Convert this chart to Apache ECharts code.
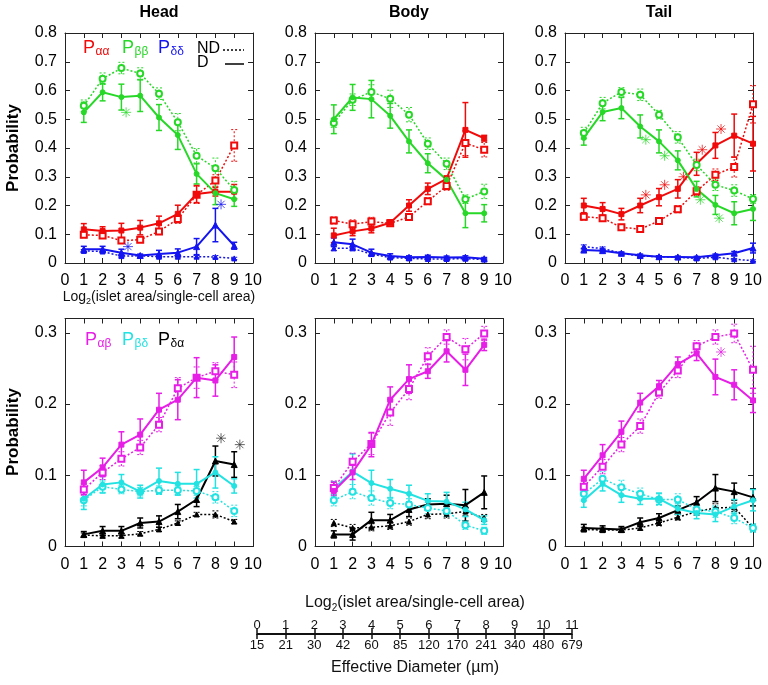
<!DOCTYPE html>
<html><head><meta charset="utf-8">
<script src="https://cdn.jsdelivr.net/npm/echarts/dist/echarts.min.js"></script>
<style>html,body{margin:0;padding:0;background:#fff}#c{width:768px;height:685px}</style>
</head><body><div id="c"></div><script>
// ---------- categories / ticks ----------
const xs9 = [1,2,3,4,5,6,7,8,9];
const xs10 = [1,2,3,4,5,6,7,8,9,10];
const panelTitles = ['Head','Body','Tail'];
const scaleLog = [0,1,2,3,4,5,6,7,8,9,10,11];
const scaleDiam = ['15','21','30','42','60','85','120','170','241','340','480','679'];

// ---------- Head, top (P_aa, P_bb, P_dd) ----------
const headAaD   = [0.117,0.111,0.113,0.123,0.138,0.171,0.240,0.248,0.248];
const headAaDe  = [0.020,0.015,0.025,0.025,0.025,0.030,0.030,0.015,0.025];
const headAaN   = [0.098,0.096,0.078,0.081,0.110,0.153,0.237,0.287,0.409];
const headAaNe  = [0.010,0.010,0.010,0.010,0.010,0.015,0.030,0.020,0.055];
const headBbD   = [0.524,0.594,0.577,0.582,0.506,0.445,0.310,0.243,0.222];
const headBbDe  = [0.035,0.030,0.045,0.055,0.045,0.050,0.035,0.040,0.025];
const headBbN   = [0.547,0.641,0.678,0.659,0.589,0.490,0.373,0.330,0.254];
const headBbNe  = [0.020,0.020,0.020,0.020,0.020,0.030,0.025,0.035,0.030];
const headDdD   = [0.048,0.048,0.036,0.026,0.031,0.036,0.057,0.132,0.060];
const headDdDe  = [0.010,0.010,0.012,0.005,0.013,0.013,0.028,0.058,0.012];
const headDdN   = [0.042,0.040,0.024,0.025,0.022,0.022,0.022,0.021,0.016];
const headDdNe  = [0.005,0.005,0.005,0.004,0.004,0.004,0.004,0.005,0.004];
const headTopStarsGreen = [[3.25,0.524]];
const headTopStarsBlue  = [[3.35,0.057],[8.3,0.204]];

// ---------- Body, top ----------
const bodyAaD   = [0.096,0.110,0.120,0.140,0.200,0.258,0.293,0.463,0.434];
const bodyAaDe  = [0.025,0.015,0.015,0.010,0.020,0.020,0.010,0.095,0.010];
const bodyAaN   = [0.148,0.135,0.144,0.138,0.160,0.215,0.268,0.417,0.394];
const bodyAaNe  = [0.012,0.015,0.015,0.010,0.010,0.012,0.015,0.043,0.025];
const bodyBbD   = [0.500,0.576,0.570,0.512,0.423,0.347,0.290,0.173,0.173];
const bodyBbDe  = [0.050,0.045,0.065,0.043,0.040,0.033,0.010,0.050,0.030];
const bodyBbN   = [0.487,0.568,0.595,0.571,0.516,0.415,0.345,0.222,0.249];
const bodyBbNe  = [0.015,0.020,0.025,0.030,0.025,0.020,0.020,0.015,0.025];
const bodyDdD   = [0.072,0.065,0.036,0.024,0.020,0.021,0.019,0.020,0.015];
const bodyDdDe  = [0.015,0.018,0.012,0.008,0.005,0.006,0.005,0.005,0.004];
const bodyDdN   = [0.051,0.051,0.031,0.019,0.016,0.014,0.014,0.015,0.012];
const bodyDdNe  = [0.008,0.008,0.005,0.004,0.003,0.003,0.003,0.003,0.003];

// ---------- Tail, top ----------
const tailAaD   = [0.200,0.188,0.170,0.200,0.229,0.258,0.345,0.409,0.443,0.415];
const tailAaDe  = [0.025,0.022,0.020,0.025,0.030,0.032,0.040,0.045,0.075,0.095];
const tailAaN   = [0.161,0.156,0.124,0.118,0.146,0.187,0.250,0.307,0.334,0.552];
const tailAaNe  = [0.012,0.010,0.010,0.008,0.010,0.012,0.015,0.020,0.035,0.065];
const tailBbD   = [0.435,0.525,0.539,0.475,0.423,0.357,0.257,0.202,0.173,0.188];
const tailBbDe  = [0.025,0.030,0.037,0.040,0.040,0.033,0.027,0.033,0.040,0.040];
const tailBbN   = [0.452,0.556,0.595,0.585,0.516,0.437,0.341,0.272,0.252,0.223];
const tailBbNe  = [0.020,0.020,0.015,0.020,0.015,0.020,0.020,0.020,0.020,0.015];
const tailDdD   = [0.045,0.043,0.034,0.027,0.022,0.021,0.020,0.027,0.034,0.052];
const tailDdDe  = [0.005,0.005,0.004,0.004,0.003,0.003,0.003,0.004,0.006,0.017];
const tailDdN   = [0.057,0.050,0.034,0.024,0.022,0.020,0.016,0.020,0.013,0.008];
const tailDdNe  = [0.006,0.006,0.004,0.003,0.003,0.003,0.003,0.003,0.003,0.003];
const tailTopStarsGreen = [[4.3,0.429],[5.3,0.373],[7.2,0.220],[8.2,0.156]];
const tailTopStarsRed   = [[4.3,0.237],[5.3,0.272],[6.3,0.300],[7.3,0.394],[8.3,0.466]];

// ---------- Head, bottom (P_ab, P_bd, P_da) ----------
const headAbD   = [0.090,0.111,0.143,0.157,0.192,0.206,0.237,0.233,0.266];
const headAbDe  = [0.017,0.013,0.018,0.022,0.023,0.028,0.028,0.022,0.028];
const headAbN   = [0.080,0.104,0.123,0.139,0.171,0.222,0.237,0.246,0.241];
const headAbNe  = [0.008,0.010,0.010,0.010,0.010,0.015,0.015,0.012,0.018];
const headBdD   = [0.067,0.087,0.090,0.077,0.092,0.088,0.088,0.104,0.085];
const headBdDe  = [0.015,0.012,0.011,0.009,0.018,0.016,0.020,0.022,0.010];
const headBdN   = [0.065,0.084,0.080,0.077,0.079,0.079,0.078,0.069,0.050];
const headBdNe  = [0.008,0.008,0.006,0.006,0.006,0.006,0.006,0.008,0.008];
const headDaD   = [0.017,0.022,0.022,0.033,0.035,0.049,0.066,0.120,0.115];
const headDaDe  = [0.004,0.006,0.006,0.007,0.008,0.010,0.010,0.021,0.018];
const headDaN   = [0.016,0.015,0.015,0.018,0.024,0.033,0.045,0.045,0.035];
const headDaNe  = [0.003,0.003,0.003,0.003,0.003,0.003,0.003,0.005,0.003];
const headBotStarsBlack = [[8.3,0.152],[9.3,0.143]];

// ---------- Body, bottom ----------
const bodyAbD   = [0.078,0.104,0.143,0.206,0.235,0.246,0.274,0.248,0.283];
const bodyAbDe  = [0.012,0.010,0.017,0.018,0.020,0.010,0.015,0.022,0.008];
const bodyAbN   = [0.082,0.119,0.144,0.188,0.221,0.267,0.294,0.277,0.299];
const bodyAbNe  = [0.010,0.012,0.015,0.018,0.015,0.012,0.010,0.015,0.010];
const bodyBdD   = [0.081,0.105,0.089,0.081,0.074,0.064,0.063,0.052,0.037];
const bodyBdDe  = [0.010,0.025,0.018,0.013,0.012,0.010,0.013,0.010,0.006];
const bodyBdN   = [0.065,0.077,0.068,0.061,0.059,0.054,0.050,0.030,0.022];
const bodyBdNe  = [0.008,0.010,0.010,0.008,0.008,0.008,0.008,0.006,0.005];
const bodyDaD   = [0.017,0.017,0.037,0.037,0.052,0.059,0.060,0.058,0.076];
const bodyDaDe  = [0.005,0.008,0.011,0.008,0.010,0.008,0.012,0.022,0.023];
const bodyDaN   = [0.033,0.026,0.027,0.029,0.035,0.045,0.046,0.049,0.040];
const bodyDaNe  = [0.005,0.005,0.005,0.005,0.005,0.006,0.006,0.006,0.005];

// ---------- Tail, bottom ----------
const tailAbD   = [0.095,0.128,0.161,0.202,0.225,0.256,0.271,0.238,0.227,0.205];
const tailAbDe  = [0.012,0.015,0.015,0.013,0.008,0.010,0.010,0.025,0.021,0.017];
const tailAbN   = [0.084,0.112,0.143,0.169,0.216,0.247,0.281,0.294,0.299,0.248];
const tailAbNe  = [0.008,0.010,0.010,0.010,0.008,0.010,0.008,0.010,0.013,0.033];
const tailBdD   = [0.065,0.088,0.072,0.067,0.067,0.053,0.047,0.045,0.056,0.065];
const tailBdDe  = [0.010,0.010,0.010,0.008,0.008,0.008,0.008,0.010,0.010,0.015];
const tailBdN   = [0.074,0.095,0.083,0.074,0.066,0.066,0.052,0.049,0.040,0.026];
const tailBdNe  = [0.010,0.010,0.010,0.008,0.008,0.008,0.008,0.008,0.008,0.006];
const tailDaD   = [0.026,0.025,0.024,0.034,0.040,0.051,0.062,0.082,0.077,0.069];
const tailDaDe  = [0.005,0.004,0.004,0.006,0.006,0.006,0.008,0.019,0.012,0.012];
const tailDaN   = [0.024,0.023,0.023,0.026,0.033,0.041,0.049,0.054,0.055,0.026];
const tailDaNe  = [0.003,0.003,0.003,0.003,0.004,0.004,0.005,0.006,0.006,0.004];
const tailBotStarsMagenta = [[8.3,0.273]];

// ---------- styling ----------
const FONT = '"Liberation Sans", Arial, Helvetica, sans-serif';
const RED = '#f00a0a', GREEN = '#28d828', BLUE = '#1414f0';
const MAGENTA = '#e61ee6', CYAN = '#22e2e2', BLACK = '#000000';
const AXC = '#222';
const panelLefts = [65, 315, 565];
const PW = 188;
const rowTops = [33, 318.5];
const rowHeights = [230, 228];
const rowMax = [0.8, 0.32];

const grids = [], xAxes = [], yAxes = [], series = [];

function yFmt(v) {
  const r = Math.round(v * 10) / 10;
  if (Math.abs(v - r) > 1e-6) return '';
  return r === 0 ? '0' : r.toFixed(1);
}

for (let row = 0; row < 2; row++) {
  for (let col = 0; col < 3; col++) {
    const p = row * 3 + col;
    grids.push({left: panelLefts[col], top: rowTops[row], width: PW, height: rowHeights[row]});
    const axisLine = {show: true, onZero: false, lineStyle: {color: AXC, width: 1}};
    const tick = {show: true, inside: true, length: 5, lineStyle: {color: AXC, width: 1}};
    xAxes.push({type: 'value', gridIndex: p, position: 'bottom', min: 0, max: 10, interval: 1,
      axisLine, axisTick: tick, splitLine: {show: false},
      axisLabel: {fontSize: 16, color: '#000', margin: 10, fontFamily: FONT}});
    xAxes.push({type: 'value', gridIndex: p, position: 'top', min: 0, max: 10, interval: 1,
      axisLine, axisTick: tick, splitLine: {show: false}, axisLabel: {show: false}});
    yAxes.push({type: 'value', gridIndex: p, position: 'left', min: 0, max: rowMax[row], interval: 0.1,
      axisLine, axisTick: tick, splitLine: {show: false},
      axisLabel: {fontSize: 16, color: '#000', margin: 8, fontFamily: FONT, formatter: yFmt}});
    yAxes.push({type: 'value', gridIndex: p, position: 'right', min: 0, max: rowMax[row], interval: 0.1,
      axisLine, axisTick: tick, splitLine: {show: false}, axisLabel: {show: false}});
  }
}

// scale axis grid (index 6)
grids.push({left: 257, width: 315, top: 633, height: 1});
xAxes.push({type: 'value', gridIndex: 6, position: 'bottom', min: 0, max: 11, interval: 1,
  axisLine: {show: true, onZero: false, lineStyle: {color: '#111', width: 2}},
  axisTick: {show: true, inside: false, length: 5, lineStyle: {color: '#111', width: 1.5}},
  splitLine: {show: false},
  axisLabel: {fontSize: 13, color: '#111', margin: 5, fontFamily: FONT, formatter: v => scaleDiam[Math.round(v)]}});
xAxes.push({type: 'value', gridIndex: 6, position: 'top', min: 0, max: 11, interval: 1,
  axisLine: {show: false, onZero: false},
  axisTick: {show: true, inside: false, length: 5, lineStyle: {color: '#111', width: 1.5}},
  splitLine: {show: false},
  axisLabel: {fontSize: 13, color: '#111', margin: 1, fontFamily: FONT, formatter: v => String(scaleLog[Math.round(v)])}});
yAxes.push({type: 'value', gridIndex: 6, show: false, min: 0, max: 1});

function errRender(color, width, dash) {
  return function (params, api) {
    const x = api.value(0), lo = api.value(1), hi = api.value(2);
    const a = api.coord([x, lo]), b = api.coord([x, hi]);
    const c = 3;
    const st = {stroke: color, lineWidth: width, lineDash: dash || null, fill: null};
    return {type: 'group', children: [
      {type: 'line', shape: {x1: a[0], y1: a[1], x2: b[0], y2: b[1]}, style: st},
      {type: 'line', shape: {x1: a[0] - c, y1: a[1], x2: a[0] + c, y2: a[1]}, style: st},
      {type: 'line', shape: {x1: b[0] - c, y1: b[1], x2: b[0] + c, y2: b[1]}, style: st}
    ]};
  };
}

function addSeries(p, xs, mean, err, color, dashed, symbol, size) {
  series.push({
    type: 'custom', xAxisIndex: 2 * p, yAxisIndex: 2 * p, silent: true, z: 2,
    renderItem: errRender(color, dashed ? 1 : 1.5, dashed ? [2, 2] : null),
    encode: {x: 0, y: [1, 2]},
    data: xs.map((x, i) => [x, mean[i] - err[i], mean[i] + err[i]])
  });
  series.push({
    type: 'line', xAxisIndex: 2 * p, yAxisIndex: 2 * p, silent: true, z: 3,
    data: xs.map((x, i) => [x, mean[i]]),
    symbol: symbol, symbolSize: size, showSymbol: true,
    lineStyle: {color: color, width: dashed ? 1.5 : 2, type: dashed ? [2, 2] : 'solid'},
    itemStyle: {color: color, borderColor: color, borderWidth: 1}
  });
}

function addStars(p, pts, color) {
  series.push({
    type: 'custom', xAxisIndex: 2 * p, yAxisIndex: 2 * p, silent: true, z: 4,
    encode: {x: 0, y: 1},
    data: pts,
    renderItem: function (params, api) {
      const c = api.coord([api.value(0), api.value(1)]);
      const r = 5, d = r * 0.72;
      const st = {stroke: color, lineWidth: 1, opacity: 0.75};
      return {type: 'group', children: [
        {type: 'line', shape: {x1: c[0] - r, y1: c[1], x2: c[0] + r, y2: c[1]}, style: st},
        {type: 'line', shape: {x1: c[0], y1: c[1] - r, x2: c[0], y2: c[1] + r}, style: st},
        {type: 'line', shape: {x1: c[0] - d, y1: c[1] - d, x2: c[0] + d, y2: c[1] + d}, style: st},
        {type: 'line', shape: {x1: c[0] - d, y1: c[1] + d, x2: c[0] + d, y2: c[1] - d}, style: st}
      ]};
    }
  });
}

function topPanel(p, xs, aD, aDe, aN, aNe, bD, bDe, bN, bNe, dD, dDe, dN, dNe) {
  addSeries(p, xs, dN, dNe, BLUE, true, 'triangle', 5);
  addSeries(p, xs, dD, dDe, BLUE, false, 'triangle', 6);
  addSeries(p, xs, aN, aNe, RED, true, 'emptyRect', 6);
  addSeries(p, xs, aD, aDe, RED, false, 'rect', 5);
  addSeries(p, xs, bN, bNe, GREEN, true, 'emptyCircle', 6);
  addSeries(p, xs, bD, bDe, GREEN, false, 'circle', 5);
}
function botPanel(p, xs, aD, aDe, aN, aNe, bD, bDe, bN, bNe, dD, dDe, dN, dNe) {
  addSeries(p, xs, dN, dNe, BLACK, true, 'triangle', 5);
  addSeries(p, xs, dD, dDe, BLACK, false, 'triangle', 6);
  addSeries(p, xs, bN, bNe, CYAN, true, 'emptyCircle', 6);
  addSeries(p, xs, bD, bDe, CYAN, false, 'circle', 5);
  addSeries(p, xs, aN, aNe, MAGENTA, true, 'emptyRect', 6);
  addSeries(p, xs, aD, aDe, MAGENTA, false, 'rect', 5);
}

topPanel(0, xs9, headAaD, headAaDe, headAaN, headAaNe, headBbD, headBbDe, headBbN, headBbNe, headDdD, headDdDe, headDdN, headDdNe);
topPanel(1, xs9, bodyAaD, bodyAaDe, bodyAaN, bodyAaNe, bodyBbD, bodyBbDe, bodyBbN, bodyBbNe, bodyDdD, bodyDdDe, bodyDdN, bodyDdNe);
topPanel(2, xs10, tailAaD, tailAaDe, tailAaN, tailAaNe, tailBbD, tailBbDe, tailBbN, tailBbNe, tailDdD, tailDdDe, tailDdN, tailDdNe);
botPanel(3, xs9, headAbD, headAbDe, headAbN, headAbNe, headBdD, headBdDe, headBdN, headBdNe, headDaD, headDaDe, headDaN, headDaNe);
botPanel(4, xs9, bodyAbD, bodyAbDe, bodyAbN, bodyAbNe, bodyBdD, bodyBdDe, bodyBdN, bodyBdNe, bodyDaD, bodyDaDe, bodyDaN, bodyDaNe);
botPanel(5, xs10, tailAbD, tailAbDe, tailAbN, tailAbNe, tailBdD, tailBdDe, tailBdN, tailBdNe, tailDaD, tailDaDe, tailDaN, tailDaNe);
addStars(0, headTopStarsGreen, GREEN);
addStars(0, headTopStarsBlue, BLUE);
addStars(2, tailTopStarsGreen, GREEN);
addStars(2, tailTopStarsRed, RED);
addStars(3, headBotStarsBlack, '#333');
addStars(5, tailBotStarsMagenta, MAGENTA);

// ---------- texts ----------
const mctx = document.createElement('canvas').getContext('2d');
function tw(txt, size, weight) {
  mctx.font = (weight || 'normal') + ' ' + size + 'px ' + FONT;
  return mctx.measureText(txt).width;
}
function txt(x, y, s, size, color, opts) {
  opts = opts || {};
  return {type: 'text', x: x, y: y, rotation: opts.rotation || 0, silent: true, z: 10,
    style: {text: s, fontSize: size, fontFamily: FONT, fontWeight: opts.weight || 'normal', fill: color,
      align: opts.align || 'left', textAlign: opts.align || 'left',
      verticalAlign: 'middle', textVerticalAlign: 'middle'}};
}
// P with subscript, left anchored
function pSub(x, y, sub, color) {
  const w = tw('P', 18);
  return [txt(x, y, 'P', 18, color), txt(x + w + 0.5, y + 4, sub, 12, color)];
}
// "Log2(...)" centered
function logTitle(cx, y, size) {
  const s1 = 'Log', s2 = '2', s3 = '(islet area/single-cell area)';
  const sub = Math.round(size * 0.62);
  const w1 = tw(s1, size), w2 = tw(s2, sub), w3 = tw(s3, size);
  const x0 = cx - (w1 + w2 + w3) / 2;
  return [txt(x0, y, s1, size, '#111'), txt(x0 + w1, y + size * 0.3, s2, sub, '#111'), txt(x0 + w1 + w2, y, s3, size, '#111')];
}

let graphics = [];
panelTitles.forEach((t, i) => graphics.push(txt(panelLefts[i] + PW / 2, 13, t, 16, '#000', {weight: 'bold', align: 'center'})));
graphics.push(txt(13, 148, 'Probability', 17, '#000', {weight: 'bold', align: 'center', rotation: Math.PI / 2}));
graphics.push(txt(13, 432, 'Probability', 17, '#000', {weight: 'bold', align: 'center', rotation: Math.PI / 2}));
graphics = graphics.concat(pSub(83, 48, 'αα', RED), pSub(122, 48, 'ββ', GREEN), pSub(158, 48, 'δδ', BLUE));
graphics = graphics.concat(pSub(85, 340, 'αβ', MAGENTA), pSub(122, 340, 'βδ', CYAN), pSub(158, 340, 'δα', BLACK));
graphics.push(txt(197, 49, 'ND', 16, '#000'));
graphics.push(txt(197, 63, 'D', 16, '#000'));
graphics.push({type: 'line', silent: true, shape: {x1: 223, y1: 50, x2: 244, y2: 50}, style: {stroke: '#000', lineWidth: 1.5, lineDash: [2, 2]}});
graphics.push({type: 'line', silent: true, shape: {x1: 225, y1: 64, x2: 244, y2: 64}, style: {stroke: '#000', lineWidth: 1.5}});
graphics = graphics.concat(logTitle(159, 297, 14));
graphics = graphics.concat(logTitle(415, 603, 16));
graphics.push(txt(415, 668, 'Effective Diameter (µm)', 16, '#111', {align: 'center'}));

const chart = echarts.init(document.getElementById('c'), null, {renderer: 'canvas'});
chart.setOption({
  animation: false,
  backgroundColor: '#fff',
  textStyle: {fontFamily: FONT},
  grid: grids, xAxis: xAxes, yAxis: yAxes, series: series, graphic: graphics
});
</script></body></html>
